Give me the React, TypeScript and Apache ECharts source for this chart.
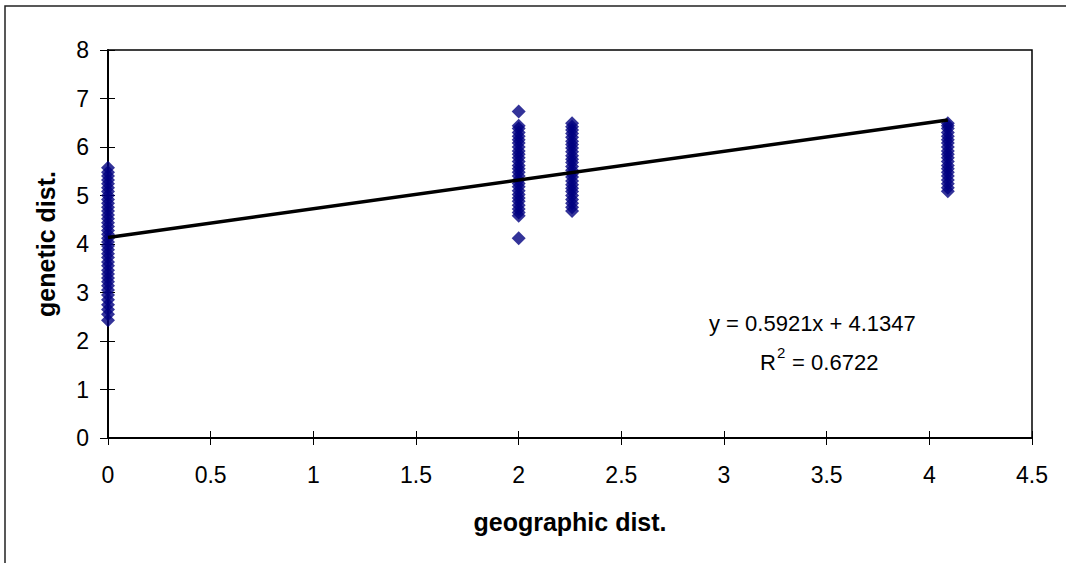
import React, { useEffect, useRef } from "react";
import * as echarts from "echarts";

const xTicks = [0, 0.5, 1, 1.5, 2, 2.5, 3, 3.5, 4, 4.5];
const yTicks = [0, 1, 2, 3, 4, 5, 6, 7, 8];

const groupX = [0, 2, 2.26, 4.09];
const group0Y = [2.43, 2.55, 2.65, 2.75, 2.85, 2.95, 3.05, 3.14, 3.22, 3.3, 3.38, 3.46, 3.55, 3.63, 3.72, 3.8, 3.88, 3.96, 4.04, 4.12, 4.2, 4.28, 4.36, 4.44, 4.52, 4.6, 4.68, 4.76, 4.84, 4.92, 5.0, 5.08, 5.16, 5.24, 5.32, 5.4, 5.48, 5.57];
const group1Y = [4.12, 4.58, 4.65, 4.72, 4.8, 4.88, 4.95, 5.02, 5.1, 5.18, 5.25, 5.32, 5.4, 5.48, 5.55, 5.62, 5.7, 5.78, 5.85, 5.92, 6.0, 6.08, 6.15, 6.22, 6.3, 6.38, 6.44, 6.73];
const group2Y = [4.68, 4.76, 4.84, 4.92, 5.0, 5.08, 5.15, 5.22, 5.3, 5.38, 5.45, 5.52, 5.6, 5.68, 5.75, 5.82, 5.9, 5.98, 6.05, 6.12, 6.2, 6.28, 6.35, 6.42, 6.49];
const group3Y = [5.09, 5.16, 5.24, 5.32, 5.4, 5.48, 5.55, 5.62, 5.7, 5.78, 5.85, 5.92, 6.0, 6.08, 6.15, 6.22, 6.3, 6.38, 6.44, 6.49];
const groupsY = [group0Y, group1Y, group2Y, group3Y];

const slope = 0.5921;
const intercept = 4.1347;
const trendX = [0, 4.09];

const FONT = "Liberation Sans, Arial, sans-serif";

export default function App() {
  const ref = useRef<HTMLDivElement>(null);
  useEffect(() => {
    if (!ref.current) return;
    const chart = echarts.init(ref.current, null, { renderer: "svg" });
    const points: number[][] = [];
    groupsY.forEach((ys, i) => ys.forEach((y) => points.push([groupX[i], y])));
    const trend = trendX.map((x) => [x, +(slope * x + intercept).toFixed(4)]);
    const tickStyle = { color: "#000", width: 1 };
    chart.setOption({
      animation: false,
      backgroundColor: "#fff",
      textStyle: { fontFamily: FONT },
      grid: {
        left: 108,
        top: 50,
        right: 34,
        bottom: 125,
        show: true,
        borderColor: "#000",
        borderWidth: 1.5,
      },
      xAxis: [
        {
          type: "value",
          min: 0,
          max: 4.5,
          interval: 0.5,
          name: "geographic dist.",
          nameLocation: "middle",
          nameGap: 71,
          nameTextStyle: { fontFamily: FONT, fontSize: 25, fontWeight: "bold", color: "#000" },
          axisLine: { show: true, onZero: false, lineStyle: { color: "#000", width: 2 } },
          axisTick: { show: true, length: 7, lineStyle: tickStyle },
          axisLabel: {
            margin: 25,
            fontSize: 23,
            color: "#000",
            fontFamily: FONT,
            formatter: (v: number) => (xTicks.includes(v) ? String(v) : ""),
          },
          splitLine: { show: false },
        },
        {
          type: "value",
          min: 0,
          max: 4.5,
          interval: 0.5,
          position: "bottom",
          axisLine: { show: false },
          axisTick: { show: true, inside: true, length: 7, lineStyle: tickStyle },
          axisLabel: { show: false },
          splitLine: { show: false },
        },
      ],
      yAxis: [
        {
          type: "value",
          min: 0,
          max: 8,
          interval: 1,
          name: "genetic dist.",
          nameLocation: "middle",
          nameGap: 50,
          nameRotate: 90,
          nameTextStyle: { fontFamily: FONT, fontSize: 25, fontWeight: "bold", color: "#000" },
          axisLine: { show: true, lineStyle: { color: "#000", width: 2 } },
          axisTick: { show: true, length: 8, lineStyle: tickStyle },
          axisLabel: {
            margin: 19,
            fontSize: 23,
            color: "#000",
            fontFamily: FONT,
            formatter: (v: number) => (yTicks.includes(v) ? String(v) : ""),
          },
          splitLine: { show: false },
        },
        {
          type: "value",
          min: 0,
          max: 8,
          interval: 1,
          position: "left",
          axisLine: { show: false },
          axisTick: { show: true, inside: true, length: 7, lineStyle: tickStyle },
          axisLabel: { show: false },
          splitLine: { show: false },
        },
      ],
      series: [
        {
          type: "scatter",
          data: points,
          symbol: "diamond",
          symbolSize: [14, 14],
          itemStyle: { color: "#000080" },
          z: 2,
        },
        {
          type: "line",
          data: trend,
          symbol: "none",
          lineStyle: { color: "#000", width: 3.5 },
          z: 3,
        },
      ],
      graphic: [
        {
          type: "rect",
          shape: { x: 5, y: 6, width: 1200, height: 700 },
          style: { fill: "none", stroke: "#222", lineWidth: 1.5 },
          silent: true,
        },
        {
          type: "text",
          x: 709,
          y: 323,
          style: {
            text: "y = 0.5921x + 4.1347",
            fontSize: 22,
            fontFamily: FONT,
            fill: "#000",
            align: "left",
            verticalAlign: "middle",
          },
        },
        {
          type: "text",
          x: 760,
          y: 362,
          style: {
            text: "R",
            fontSize: 22,
            fontFamily: FONT,
            fill: "#000",
            align: "left",
            verticalAlign: "middle",
          },
        },
        {
          type: "text",
          x: 777,
          y: 352,
          style: {
            text: "2",
            fontSize: 15,
            fontFamily: FONT,
            fill: "#000",
            align: "left",
            verticalAlign: "middle",
          },
        },
        {
          type: "text",
          x: 786,
          y: 362,
          style: {
            text: " = 0.6722",
            fontSize: 22,
            fontFamily: FONT,
            fill: "#000",
            align: "left",
            verticalAlign: "middle",
          },
        },
      ],
    });
    return () => chart.dispose();
  }, []);
  return (
    <div
      ref={ref}
      style={{ position: "fixed", left: 0, top: 0, width: 1066, height: 563 }}
    />
  );
}
